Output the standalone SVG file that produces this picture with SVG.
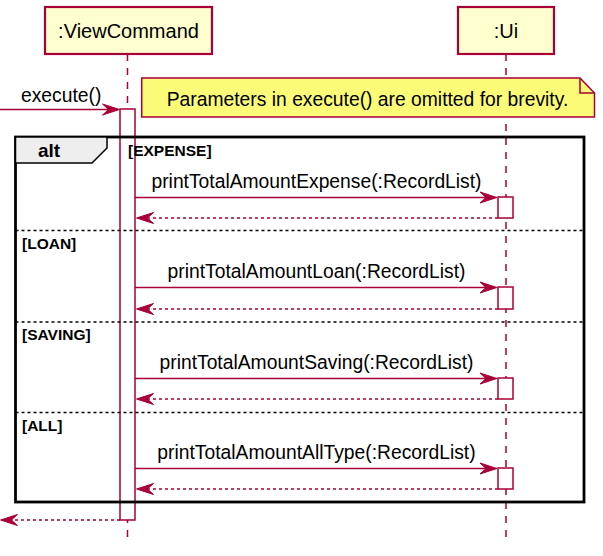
<svg xmlns="http://www.w3.org/2000/svg" width="603" height="556" viewBox="0 0 603 556">
<style>
.t{font-family:"Liberation Sans",Arial,sans-serif;fill:#000}
.msg{font-size:19.3px}
.grp{font-size:15.5px;font-weight:bold}
.life{stroke:#A80036;stroke-width:1.5;stroke-dasharray:7,7;fill:none}
.part{fill:#FEFECE;stroke:#A80036;stroke-width:2.2}
.act{fill:#FFFFFF;stroke:#A80036;stroke-width:1.5}
.sol{stroke:#A80036;stroke-width:1.5;fill:none}
.ret{stroke:#A80036;stroke-width:1.5;stroke-dasharray:3,3;fill:none}
.sep{stroke:#000;stroke-width:1.5;stroke-dasharray:3,3;fill:none}
.head{fill:#A80036;stroke:#A80036;stroke-width:1}
</style>
<defs>
<polygon id="hr" points="0,0 -17,-5.5 -11,0 -17,5.5"/>
<polygon id="hl" points="0,0 17,-5.5 11,0 17,5.5"/>
</defs>
<rect width="603" height="556" fill="#FFFFFF"/>

<g id="lifelines">
<line class="life" x1="127.5" y1="54" x2="127.5" y2="543"/>
<line class="life" x1="506" y1="54" x2="506" y2="543"/>
</g>

<g id="ViewCommand">
<rect class="part" x="45" y="7" width="167" height="47"/>
<text class="t" x="128.5" y="38" font-size="20" text-anchor="middle">:ViewCommand</text>
</g>

<g id="Ui">
<rect class="part" x="458" y="7" width="96" height="47"/>
<text class="t" x="506" y="38" font-size="20" text-anchor="middle">:Ui</text>
</g>

<g id="activations">
<rect class="act" x="120" y="109" width="15" height="411"/>
<rect class="act" x="498" y="197" width="15" height="21"/>
<rect class="act" x="498" y="287" width="15" height="22"/>
<rect class="act" x="498" y="378" width="15" height="21"/>
<rect class="act" x="498" y="468" width="15" height="21"/>
</g>

<g id="note">
<path d="M141.7,78 L580,78 L594.5,93 L594.5,117 L141.7,117 Z" fill="#FBFB77" stroke="#A80036" stroke-width="1.5"/>
<path d="M580,78 L580,93 L594.5,93" fill="none" stroke="#A80036" stroke-width="1.5"/>
<text class="t msg" x="367.5" y="106" text-anchor="middle">Parameters in execute() are omitted for brevity.</text>
</g>

<g id="alt">
<rect x="15.5" y="137" width="568.5" height="365" fill="none" stroke="#000" stroke-width="2.8"/>
<polygon points="15.5,137 107,137 107,148 92,163 15.5,163" fill="#EEEEEE" stroke="#000" stroke-width="1.5"/>
<text class="t" x="38" y="157" font-size="19" font-weight="bold">alt</text>
<text class="t grp" x="128" y="156">[EXPENSE]</text>
<line class="sep" x1="15.5" y1="230.5" x2="584" y2="230.5"/>
<text class="t grp" x="22" y="249">[LOAN]</text>
<line class="sep" x1="15.5" y1="322" x2="584" y2="322"/>
<text class="t grp" x="22" y="340">[SAVING]</text>
<line class="sep" x1="15.5" y1="412.5" x2="584" y2="412.5"/>
<text class="t grp" x="22" y="431">[ALL]</text>
</g>

<g id="connectors">
<line class="sol" x1="0" y1="109.5" x2="112" y2="109.5"/>
<use href="#hr" class="head" x="119.5" y="109.5"/>
<text class="t msg" x="21" y="102">execute()</text>

<line class="sol" x1="135" y1="197.5" x2="490" y2="197.5"/>
<use href="#hr" class="head" x="497" y="197.5"/>
<text class="t msg" x="316.5" y="188" text-anchor="middle">printTotalAmountExpense(:RecordList)</text>
<line class="ret" x1="498" y1="218" x2="142" y2="218"/>
<use href="#hl" class="head" x="136.5" y="218"/>

<line class="sol" x1="135" y1="287.5" x2="490" y2="287.5"/>
<use href="#hr" class="head" x="497" y="287.5"/>
<text class="t msg" x="316.5" y="278" text-anchor="middle">printTotalAmountLoan(:RecordList)</text>
<line class="ret" x1="498" y1="309" x2="142" y2="309"/>
<use href="#hl" class="head" x="136.5" y="309"/>

<line class="sol" x1="135" y1="378.5" x2="490" y2="378.5"/>
<use href="#hr" class="head" x="497" y="378.5"/>
<text class="t msg" x="316.5" y="369" text-anchor="middle">printTotalAmountSaving(:RecordList)</text>
<line class="ret" x1="498" y1="399" x2="142" y2="399"/>
<use href="#hl" class="head" x="136.5" y="399"/>

<line class="sol" x1="135" y1="468.5" x2="490" y2="468.5"/>
<use href="#hr" class="head" x="497" y="468.5"/>
<text class="t msg" x="316.5" y="459" text-anchor="middle">printTotalAmountAllType(:RecordList)</text>
<line class="ret" x1="498" y1="489" x2="142" y2="489"/>
<use href="#hl" class="head" x="136.5" y="489"/>

<line class="ret" x1="120" y1="520" x2="6" y2="520"/>
<use href="#hl" class="head" x="0.5" y="520"/>
</g>
</svg>
